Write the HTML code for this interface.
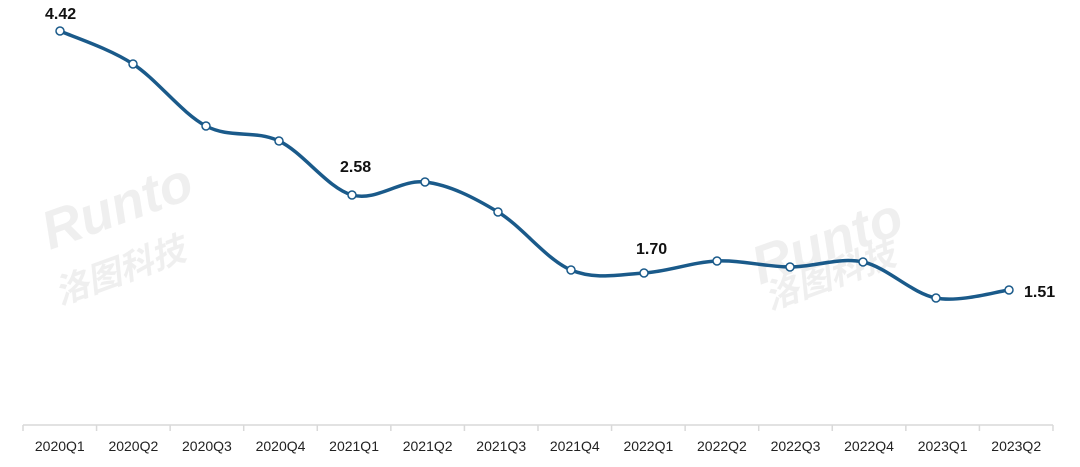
<!DOCTYPE html>
<html><head><meta charset="utf-8"><style>body{margin:0;background:#fff}svg{display:block}</style></head><body>
<svg width="1080" height="467" xmlns="http://www.w3.org/2000/svg" font-family="Liberation Sans, Arial, sans-serif">
<g fill="#ececec" font-style="italic" font-weight="bold" opacity="0.8">
<text x="50" y="250" font-size="54" transform="rotate(-20 50 250)">Runto</text>
<text x="60" y="305" font-size="34" font-family="Noto Sans CJK SC, sans-serif" transform="rotate(-20 60 305)">洛图科技</text>
<text x="760" y="285" font-size="54" transform="rotate(-20 760 285)">Runto</text>
<text x="770" y="310" font-size="34" font-family="Noto Sans CJK SC, sans-serif" transform="rotate(-20 770 310)">洛图科技</text>
</g>
<line x1="23" y1="425" x2="1053" y2="425" stroke="#d9d9d9" stroke-width="1.5"/>
<g id="ticks" stroke="#d9d9d9" stroke-width="1.5"></g>
<g id="labels" font-size="14" fill="#222" text-anchor="middle"></g>
<path id="ln" fill="none" stroke="#1a5a8a" stroke-width="3.5"/>
<g id="pts"></g>
<g font-size="16" font-weight="bold" fill="#111">
<text x="45" y="19">4.42</text>
<text x="340" y="172">2.58</text>
<text x="636" y="254">1.70</text>
<text x="1024" y="297">1.51</text>
</g>
</svg>
<script>
var ns="http://www.w3.org/2000/svg";
var names=["2020Q1","2020Q2","2020Q3","2020Q4","2021Q1","2021Q2","2021Q3","2021Q4","2022Q1","2022Q2","2022Q3","2022Q4","2023Q1","2023Q2"];
var ys=[31,64,126,141,195,182,212,270,273,261,267,262,298,290];
var t=document.getElementById('ticks'),l=document.getElementById('labels'),p=document.getElementById('pts');
for(var i=0;i<=14;i++){var x=23+i*73.57;var e=document.createElementNS(ns,'line');e.setAttribute('x1',x);e.setAttribute('x2',x);e.setAttribute('y1',425);e.setAttribute('y2',431);t.appendChild(e);}
var P=[];
for(var i=0;i<14;i++){var x=60+i*73;P.push([x,ys[i]]);var tx=document.createElementNS(ns,'text');tx.setAttribute('x',59.8+i*73.57);tx.setAttribute('y',451);tx.textContent=names[i];l.appendChild(tx);}
var d="M"+P[0][0]+","+P[0][1];
for(var i=0;i<13;i++){var p0=P[Math.max(0,i-1)],p1=P[i],p2=P[i+1],p3=P[Math.min(13,i+2)];
d+=" C"+(p1[0]+(p2[0]-p0[0])/6)+","+(p1[1]+(p2[1]-p0[1])/6)+" "+(p2[0]-(p3[0]-p1[0])/6)+","+(p2[1]-(p3[1]-p1[1])/6)+" "+p2[0]+","+p2[1];}
document.getElementById('ln').setAttribute('d',d);
P.forEach(function(q){var c=document.createElementNS(ns,'circle');c.setAttribute('cx',q[0]);c.setAttribute('cy',q[1]);c.setAttribute('r',4);c.setAttribute('fill','#fff');c.setAttribute('stroke','#1a5a8a');c.setAttribute('stroke-width','1.5');p.appendChild(c);});
</script>
</body></html>
